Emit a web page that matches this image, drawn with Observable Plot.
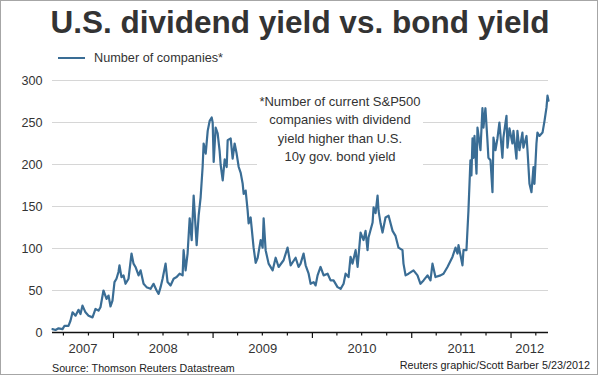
<!DOCTYPE html>
<html><head><meta charset="utf-8">
<script src="https://cdn.jsdelivr.net/npm/d3@7"></script>
<script src="https://cdn.jsdelivr.net/npm/@observablehq/plot@0.6"></script>
<style>
html,body{margin:0;padding:0;background:#fff;}
#wrap{position:relative;width:600px;height:376px;overflow:hidden;font-family:"Liberation Sans",Arial,sans-serif;color:#333;background:#fff;}
#border{position:absolute;left:0;top:0;width:596px;height:373px;border:1px solid #a6a6a6;pointer-events:none;}
#chart{position:absolute;left:0;top:0;}
#title{position:absolute;left:0;top:7px;width:600px;text-align:center;font-weight:bold;font-size:31.5px;line-height:31px;color:#333;white-space:nowrap;}
#legend{position:absolute;left:58px;top:51px;height:14px;display:flex;align-items:center;font-size:12.7px;line-height:14px;color:#333;white-space:nowrap;}
#legend .sw{display:inline-block;width:27px;height:2px;margin-right:9px;}
#note{position:absolute;left:257px;top:89px;width:166px;padding:4px 0 5px 0;background:#fff;text-align:center;font-size:13px;line-height:18.3px;color:#333;white-space:nowrap;}
#source{position:absolute;left:52px;top:363px;font-size:10.7px;line-height:11px;color:#222;white-space:nowrap;}
#credit{position:absolute;right:10px;top:359.5px;font-size:10.8px;line-height:11px;color:#222;white-space:nowrap;}
</style>
</head><body>
<div id="wrap">
  <div id="chart"></div>
  <div id="title"></div>
  <div id="legend"><span class="sw"></span><span id="legtext"></span></div>
  <div id="note"></div>
  <div id="source"></div>
  <div id="credit"></div>
  <div id="border"></div>
</div>
<script>
// ---- Data ----
const titleText = "U.S. dividend yield vs. bond yield";
const seriesName = "Number of companies*";
const noteLines = ["*Number of current S&P500", "companies with dividend", "yield higher than U.S.", "10y gov. bond yield"];
const sourceText = "Source: Thomson Reuters Datastream";
const creditText = "Reuters graphic/Scott Barber 5/23/2012";
const yTicks = [0, 50, 100, 150, 200, 250, 300];
const yearLabels = [2007, 2008, 2009, 2010, 2011, 2012];

// decimal years
const years = [
  2007.386,2007.417,2007.447,2007.487,2007.507,2007.547,2007.567,2007.588,2007.618,2007.648,
  2007.668,2007.688,2007.718,2007.749,2007.789,2007.819,2007.849,2007.869,2007.899,2007.930,
  2007.950,2007.970,2007.990,2008.010,2008.030,2008.050,2008.060,2008.080,2008.101,2008.121,
  2008.151,2008.181,2008.201,2008.221,2008.252,2008.272,2008.302,2008.332,2008.372,2008.402,
  2008.433,2008.453,2008.473,2008.493,2008.523,2008.543,2008.573,2008.604,2008.634,2008.664,
  2008.694,2008.704,2008.724,2008.744,2008.765,2008.785,2008.805,2008.835,2008.855,2008.875,
  2008.895,2008.905,2008.926,2008.946,2008.966,2008.986,2008.996,2009.006,2009.026,2009.046,
  2009.066,2009.076,2009.097,2009.117,2009.137,2009.147,2009.177,2009.197,2009.217,2009.237,
  2009.258,2009.278,2009.298,2009.308,2009.328,2009.348,2009.358,2009.378,2009.398,2009.408,
  2009.429,2009.449,2009.479,2009.499,2009.509,2009.529,2009.559,2009.600,2009.630,2009.660,
  2009.710,2009.750,2009.781,2009.831,2009.861,2009.881,2009.911,2009.932,2009.962,2009.982,
  2010.012,2010.032,2010.052,2010.082,2010.113,2010.153,2010.183,2010.213,2010.253,2010.284,
  2010.314,2010.334,2010.364,2010.384,2010.404,2010.435,2010.455,2010.485,2010.515,2010.535,
  2010.555,2010.565,2010.606,2010.616,2010.636,2010.656,2010.666,2010.686,2010.706,2010.736,
  2010.767,2010.807,2010.837,2010.867,2010.907,2010.917,2010.938,2010.968,2011.018,2011.058,
  2011.088,2011.119,2011.159,2011.189,2011.209,2011.239,2011.290,2011.320,2011.360,2011.410,
  2011.441,2011.461,2011.471,2011.511,2011.521,2011.551,2011.571,2011.591,2011.601,2011.612,
  2011.622,2011.632,2011.652,2011.662,2011.692,2011.712,2011.722,2011.742,2011.762,2011.772,
  2011.793,2011.813,2011.823,2011.843,2011.863,2011.883,2011.913,2011.923,2011.954,2011.964,
  2011.984,2012.014,2012.024,2012.054,2012.064,2012.084,2012.114,2012.124,2012.155,2012.165,
  2012.185,2012.205,2012.225,2012.235,2012.255,2012.265,2012.285,2012.316,2012.336,2012.356,
  2012.366,2012.376
];
// number of S&P500 companies with dividend yield above the 10y bond yield
const companies = [
  4,3,5,4,8,8,14,24,20,27,
  22,32,24,20,18,28,26,30,50,40,
  44,31,38,60,64,72,80,66,68,58,
  64,94,82,78,68,74,58,54,52,58,
  50,46,54,64,82,60,56,64,66,70,
  68,98,74,94,136,110,163,104,139,161,
  197,225,213,240,252,256,250,203,244,237,
  216,200,181,206,197,229,231,207,225,213,
  197,190,177,165,169,145,130,137,113,101,
  83,89,110,101,136,98,82,74,89,78,
  86,101,80,89,78,82,94,80,70,58,
  60,56,68,78,68,70,62,62,54,52,
  58,70,66,90,82,98,78,119,110,121,
  98,113,131,149,142,163,145,130,119,137,
  139,121,115,101,98,82,68,70,74,68,
  58,62,68,62,82,66,68,70,78,90,
  101,94,104,80,98,98,145,205,187,231,
  208,234,189,244,217,267,244,267,229,208,
  205,167,232,217,231,250,208,232,258,220,
  243,225,240,207,240,217,238,220,234,217,
  177,167,197,177,225,238,234,238,252,268,
  282,276
];

// ---- Build table ----
const lineColor = "#3a6d95";
function toDate(y) {
  const yr = Math.floor(y);
  const s = Date.UTC(yr, 0, 1), e = Date.UTC(yr + 1, 0, 1);
  return new Date(s + (y - yr) * (e - s));
}
const data = years.map((y, i) => ({date: toDate(y), value: companies[i]}));
const x0 = data[0].date, x1 = data[data.length - 1].date;

const quarterTicks = d3.utcMonth.every(3).range(x0, x1).filter(d => d.getUTCMonth() !== 0);
const yearTicks = d3.utcYear.range(x0, x1);
const labelData = yearLabels.map(yr => {
  const a = new Date(Math.max(+x0, Date.UTC(yr, 0, 1)));
  const b = new Date(Math.min(+x1, Date.UTC(yr + 1, 0, 1)));
  return {date: new Date((+a + +b) / 2), label: String(yr)};
});

const chart = Plot.plot({
  width: 600,
  height: 376,
  marginLeft: 52,
  marginRight: 52,
  marginTop: 80,
  marginBottom: 44,
  style: {fontFamily: "'Liberation Sans', Arial, sans-serif", fontSize: "12.6px", color: "#333", background: "transparent", overflow: "visible"},
  x: {type: "utc", domain: [x0, x1]},
  y: {domain: [0, 300]},
  marks: [
    Plot.gridY(yTicks.filter(d => d > 0), {stroke: "#d6d6d6", strokeOpacity: 1, strokeWidth: 1}),
    Plot.axisY({ticks: yTicks, tickSize: 0, tickPadding: 10, label: null, fill: "#333", fontSize: 12.6}),
    Plot.lineY(data, {x: "date", y: "value", stroke: lineColor, strokeWidth: 2.2, strokeLinejoin: "round"}),
    Plot.ruleY([0], {stroke: "#111", strokeWidth: 1.6}),
    Plot.axisX({ticks: quarterTicks, tickSize: 3.5, tickFormat: () => "", label: null, stroke: "#111", strokeWidth: 1.2}),
    Plot.axisX({ticks: yearTicks, tickSize: 6, tickFormat: () => "", label: null, stroke: "#111", strokeWidth: 1.2}),
    Plot.text(labelData, {x: "date", text: "label", frameAnchor: "bottom", dy: 16.5, lineAnchor: "middle", fontSize: 13, fill: "#333"})
  ]
});
document.getElementById("chart").appendChild(chart);

document.getElementById("title").textContent = titleText;
document.getElementById("legtext").textContent = seriesName;
document.querySelector("#legend .sw").style.background = lineColor;
document.getElementById("note").innerHTML = noteLines.map(s => s.replace(/&/g, "&amp;")).join("<br>");
document.getElementById("source").textContent = sourceText;
document.getElementById("credit").textContent = creditText;
</script>
</body></html>
